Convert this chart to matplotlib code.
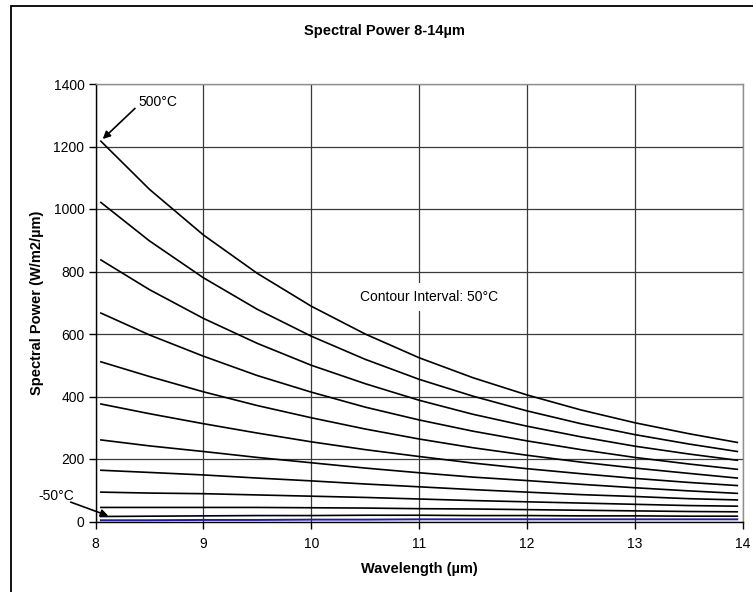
# -*- coding: UTF-8 -*-
import matplotlib
matplotlib.use('Agg')
import matplotlib.pyplot as plt
from matplotlib.patches import Rectangle

# wavelength, um
WAVELENGTH = [8.05, 8.5, 9.0, 9.5, 10.0, 10.5, 11.0, 11.5, 12.0, 12.5, 13.0, 13.5, 13.95]

# spectral power, W/m2/um, one list per temperature (contour interval 50 C)
P_500 = [1217, 1063, 917, 794, 689, 600, 524, 460, 405, 357, 316, 281, 253]
P_450 = [1021, 898, 780, 679, 593, 519, 455, 401, 354, 313, 278, 248, 224]
P_400 = [837, 742, 650, 570, 500, 441, 388, 343, 305, 271, 241, 216, 196]
P_350 = [667, 597, 529, 467, 414, 366, 325, 289, 258, 230, 205, 184, 167]
P_300 = [511, 464, 415, 371, 332, 296, 264, 236, 212, 190, 171, 154, 139]
P_250 = [376, 345, 313, 283, 255, 230, 208, 187, 169, 153, 138, 125, 115]
P_200 = [261, 242, 224, 205, 188, 171, 156, 142, 131, 119, 108, 98, 90]
P_150 = [164, 157, 149, 139, 130, 120, 111, 102, 94, 86, 80, 73, 69]
P_100 = [94, 91, 89, 85, 81, 77, 72, 67, 63, 59, 55, 51, 49]
P_50 = [45, 45, 45, 45, 44, 43, 41, 40, 38, 36, 34, 32, 31]
P_0 = [16, 17, 18, 19, 19, 20, 20, 19, 19, 18, 18, 17, 17]
P_M50 = [4, 4, 5, 5, 6, 6, 7, 7, 7, 7, 7, 7, 7]

CURVES = [P_500, P_450, P_400, P_350, P_300, P_250, P_200, P_150, P_100, P_50, P_0]

X_TICKS = [8, 9, 10, 11, 12, 13, 14]
Y_TICKS = [0, 200, 400, 600, 800, 1000, 1200, 1400]

W, H = 753.0, 592.0  # picture size in pixels


def px(x, y):
    # pixel position -> figure fraction
    return x / W, 1 - y / H


def main():
    plt.rcParams['font.family'] = ['Liberation Sans', 'DejaVu Sans']

    fig = plt.figure(figsize=(W / 100, H / 100), dpi=100)
    left, right, top, bottom = 95.5, 742.7, 84.0, 521.5
    ax = fig.add_axes([left / W, 1 - bottom / H, (right - left) / W, (bottom - top) / H])

    # chart area border (cut off at the right and bottom in the original)
    fig.patches.append(Rectangle((11 / W, -0.1), 1.2, 0.1 + 1 - 6 / H,
                                 transform=fig.transFigure, fill=False,
                                 ec='black', lw=1.3))

    for p in CURVES:
        ax.plot(WAVELENGTH, p, color='black', lw=1.2)
    ax.plot(WAVELENGTH, P_M50, color='#1c1c9c', lw=1.4)

    ax.set_xlim(8, 14)
    ax.set_ylim(0, 1400)
    ax.set_xticks(X_TICKS)
    ax.set_yticks(Y_TICKS)
    ax.grid(True, color='#3a3a3a', lw=0.9)

    for s in ['left', 'bottom']:
        ax.spines[s].set_color('black')
        ax.spines[s].set_linewidth(1.0)
    for s in ['top', 'right']:
        ax.spines[s].set_color('#909090')
        ax.spines[s].set_linewidth(1.0)

    ax.tick_params(axis='both', direction='out', length=5, width=1, labelsize=10)
    ax.tick_params(axis='x', pad=6)
    ax.tick_params(axis='y', pad=3)

    # labels and arrows
    ax.text(8.394, 1342, u'500°C', ha='left', va='center', fontsize=10)
    ax.annotate('', xy=(8.067, 1224), xytext=(8.366, 1322),
                arrowprops=dict(arrowstyle='-|>', color='black', lw=1.2,
                                shrinkA=0, shrinkB=0, mutation_scale=11))

    ax.text(7.467, 80, u'-50°C', ha='left', va='center', fontsize=10)
    ax.annotate('', xy=(8.119, 18), xytext=(7.77, 62),
                arrowprops=dict(arrowstyle='-|>', color='black', lw=1.2,
                                shrinkA=0, shrinkB=0, mutation_scale=11),
                annotation_clip=False)

    ax.text(11.095, 718, u'Contour Interval: 50°C', ha='center', va='center',
            fontsize=10, zorder=5,
            bbox=dict(facecolor='white', edgecolor='none', pad=5))

    fig.text(*px(384, 31), u'Spectral Power 8-14µm', ha='center', va='center',
             fontsize=10.5, fontweight='bold')
    fig.text(*px(419, 569), u'Wavelength (µm)', ha='center', va='center',
             fontsize=10.5, fontweight='bold')
    fig.text(*px(37, 303), u'Spectral Power (W/m2/µm)', ha='center', va='center',
             rotation=90, fontsize=10.5, fontweight='bold')

    fig.savefig('out.png', dpi=100)


if __name__ == "__main__":
    main()
